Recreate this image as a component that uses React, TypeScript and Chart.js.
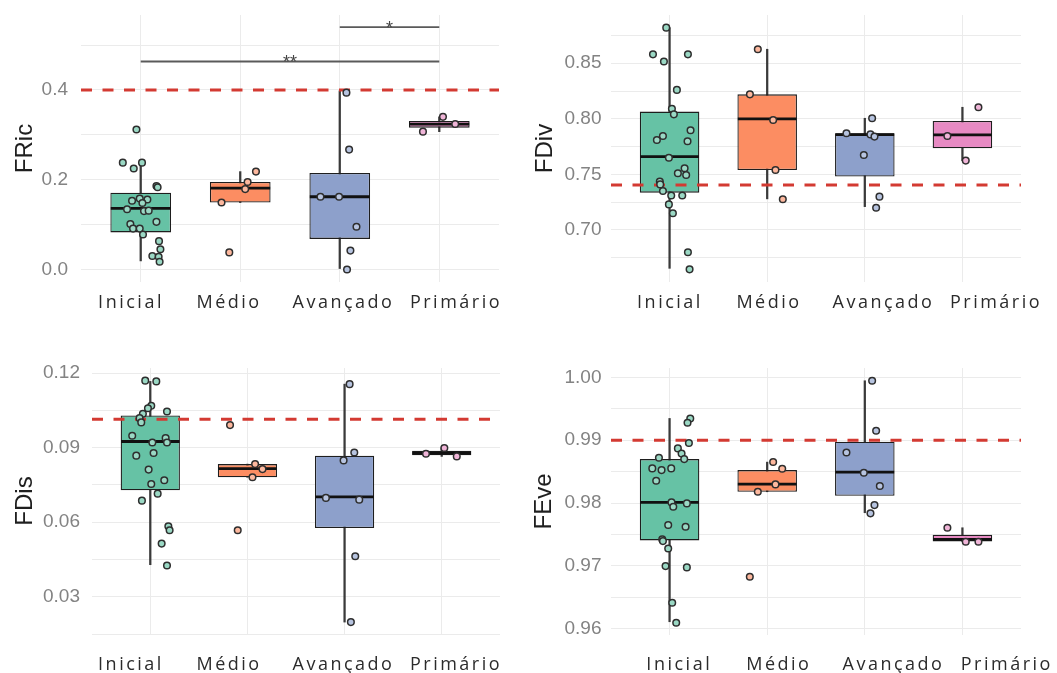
import React, { useEffect, useRef } from 'react';
import { Chart, registerables } from 'chart.js';

Chart.register(...registerables);

const CATEGORIES = ['Inicial', 'Médio', 'Avançado', 'Primário'];
const GROUP_COLORS = ['#66c2a5', '#fc8d62', '#8da0cb', '#e78ac3'];
const POINT_FILLS = ['#9ad8c4', '#fdb89e', '#b7c4e0', '#f0b5d8'];

// ---------------- FRic ----------------
const FRIC_INICIAL = [0.312, 0.238, 0.225, 0.238, 0.186, 0.183, 0.153, 0.158, 0.156, 0.148, 0.134, 0.130, 0.131, 0.106, 0.101, 0.091, 0.091, 0.078, 0.063, 0.045, 0.030, 0.028, 0.017];
const FRIC_INICIAL_JITTER = [-0.043, -0.18, -0.07, 0.013, 0.158, 0.17, -0.087, -0.01, 0.067, 0.017, -0.137, 0.033, 0.08, 0.158, -0.104, -0.077, -0.01, 0.023, 0.184, 0.198, 0.117, 0.18, 0.19];
const FRIC_MEDIO = [0.218, 0.195, 0.179, 0.149, 0.038];
const FRIC_MEDIO_JITTER = [0.158, 0.074, 0.05, -0.188, -0.11];
const FRIC_AVANCADO = [0.394, 0.267, 0.162, 0.162, 0.095, 0.042, 0.0];
const FRIC_AVANCADO_JITTER = [0.067, 0.094, -0.194, -0.007, 0.168, 0.107, 0.073];
const FRIC_PRIMARIO = [0.340, 0.324, 0.307];
const FRIC_PRIMARIO_JITTER = [0.037, 0.16, -0.164];
const FRIC_Q1 = [0.0825, 0.149, 0.068, 0.316];
const FRIC_MEDIAN = [0.136, 0.181, 0.162, 0.324];
const FRIC_Q3 = [0.171, 0.195, 0.215, 0.331];
const FRIC_WHISKER_LO = [0.019, 0.149, 0.002, 0.307];
const FRIC_WHISKER_HI = [0.238, 0.218, 0.398, 0.340];
const FRIC_THRESHOLD = 0.4;
const FRIC_Y_TICKS = [0.0, 0.2, 0.4];
const FRIC_Y_MINOR = [0.1, 0.3, 0.5];
const FRIC_SIGNIFICANCE = [
  { from: 1, to: 4, y: 0.4634, label: '**' },
  { from: 3, to: 4, y: 0.540, label: '*' },
];

// ---------------- FDiv ----------------
const FDIV_INICIAL = [0.882, 0.858, 0.8515, 0.858, 0.826, 0.809, 0.804, 0.7846, 0.781, 0.7897, 0.7798, 0.765, 0.7555, 0.751, 0.7495, 0.7435, 0.741, 0.735, 0.731, 0.731, 0.723, 0.715, 0.680, 0.6646];
const FDIV_INICIAL_JITTER = [-0.034, -0.17, -0.058, 0.188, 0.075, 0.024, 0.044, -0.068, -0.13, 0.215, 0.184, -0.007, 0.154, 0.085, 0.17, -0.10, -0.096, -0.068, 0.017, 0.13, -0.007, 0.034, 0.188, 0.205];
const FDIV_MEDIO = [0.8626, 0.822, 0.799, 0.754, 0.7276];
const FDIV_MEDIO_JITTER = [-0.096, -0.177, 0.061, 0.085, 0.16];
const FDIV_AVANCADO = [0.8005, 0.787, 0.786, 0.784, 0.7675, 0.730, 0.720];
const FDIV_AVANCADO_JITTER = [0.075, -0.188, 0.058, 0.099, -0.01, 0.15, 0.116];
const FDIV_PRIMARIO = [0.8104, 0.7846, 0.7624];
const FDIV_PRIMARIO_JITTER = [0.164, -0.154, 0.034];
const FDIV_Q1 = [0.7336, 0.754, 0.748, 0.7735];
const FDIV_MEDIAN = [0.766, 0.800, 0.7858, 0.7855];
const FDIV_Q3 = [0.8065, 0.822, 0.787, 0.798];
const FDIV_WHISKER_LO = [0.6655, 0.728, 0.721, 0.7624];
const FDIV_WHISKER_HI = [0.882, 0.8626, 0.8005, 0.8104];
const FDIV_THRESHOLD = 0.7404;
const FDIV_Y_TICKS = [0.70, 0.75, 0.80, 0.85];
const FDIV_Y_MINOR = [0.675, 0.725, 0.775, 0.825, 0.875];

// ---------------- FDis ----------------
const FDIS_INICIAL = [0.117, 0.1167, 0.1069, 0.1059, 0.1046, 0.1037, 0.1019, 0.1002, 0.0948, 0.0939, 0.0921, 0.0921, 0.0868, 0.0879, 0.0812, 0.0754, 0.0769, 0.0715, 0.0687, 0.0584, 0.0568, 0.0514, 0.0426];
const FDIS_INICIAL_JITTER = [-0.052, 0.062, 0.010, -0.024, 0.172, -0.076, -0.11, -0.093, -0.186, 0.158, 0.021, 0.172, -0.144, 0.034, -0.017, 0.010, 0.144, 0.076, -0.086, 0.186, 0.199, 0.117, 0.172];
const FDIS_MEDIO = [0.0991, 0.0834, 0.0814, 0.0781, 0.0568];
const FDIS_MEDIO_JITTER = [-0.179, 0.079, 0.155, 0.052, -0.1];
const FDIS_AVANCADO = [0.1156, 0.0881, 0.0849, 0.0698, 0.0691, 0.0463, 0.0198];
const FDIS_AVANCADO_JITTER = [0.052, 0.1, -0.01, -0.192, 0.151, 0.110, 0.065];
const FDIS_PRIMARIO = [0.0876, 0.0899, 0.0865];
const FDIS_PRIMARIO_JITTER = [-0.162, 0.027, 0.155];
const FDIS_Q1 = [0.0729, 0.0781, 0.0577, 0.0870];
const FDIS_MEDIAN = [0.0925, 0.0816, 0.0702, 0.0878];
const FDIS_Q3 = [0.103, 0.0834, 0.0868, 0.0888];
const FDIS_WHISKER_LO = [0.0429, 0.0781, 0.0198, 0.0865];
const FDIS_WHISKER_HI = [0.1167, 0.0834, 0.1156, 0.0899];
const FDIS_THRESHOLD = 0.1015;
const FDIS_Y_TICKS = [0.03, 0.06, 0.09, 0.12];
const FDIS_Y_MINOR = [0.015, 0.045, 0.075, 0.105];

// ---------------- FEve ----------------
const FEVE_INICIAL = [0.99347, 0.99279, 0.98955, 0.9887, 0.9879, 0.9870, 0.98722, 0.98552, 0.98525, 0.98552, 0.98355, 0.98011, 0.97942, 0.97995, 0.97650, 0.97623, 0.97422, 0.97395, 0.97278, 0.96997, 0.96976, 0.96414, 0.96096];
const FEVE_INICIAL_JITTER = [0.212, 0.184, 0.198, 0.085, 0.123, 0.150, -0.109, -0.177, -0.082, 0.017, -0.137, 0.020, 0.038, 0.177, -0.014, 0.164, -0.075, -0.068, -0.014, -0.041, 0.177, 0.027, 0.068];
const FEVE_MEDIO = [0.98653, 0.98546, 0.98297, 0.98180, 0.96828];
const FEVE_MEDIO_JITTER = [0.061, 0.154, 0.085, -0.096, -0.178];
const FEVE_AVANCADO = [0.99947, 0.99151, 0.98806, 0.98483, 0.98271, 0.97968, 0.97836];
const FEVE_AVANCADO_JITTER = [0.075, 0.116, -0.188, -0.01, 0.154, 0.099, 0.058];
const FEVE_PRIMARIO = [0.97607, 0.97385, 0.97385];
const FEVE_PRIMARIO_JITTER = [-0.154, 0.034, 0.164];
const FEVE_Q1 = [0.97406, 0.98180, 0.98117, 0.9739];
const FEVE_MEDIAN = [0.98011, 0.98302, 0.98493, 0.97422];
const FEVE_Q3 = [0.98700, 0.98525, 0.98976, 0.97496];
const FEVE_WHISKER_LO = [0.96111, 0.98180, 0.97846, 0.9739];
const FEVE_WHISKER_HI = [0.99347, 0.98652, 0.99947, 0.97607];
const FEVE_THRESHOLD = 0.99;
const FEVE_Y_TICKS = [0.96, 0.97, 0.98, 0.99, 1.00];
const FEVE_Y_MINOR = [0.965, 0.975, 0.985, 0.995];

// ---------------- styles ----------------
const X_MIN = 0.4;
const X_MAX = 4.6;
const BOX_WIDTH = 0.61;
const GRID_COLOR = '#ebebeb';
const RED = '#d33a32';

type Sig = { from: number; to: number; y: number; label: string };
type PanelData = {
  title: string; yMin: number; yMax: number; majors: number[]; minors: number[]; decimals: number;
  threshold: number; points: number[][]; jitter: number[][];
  q1: number[]; median: number[]; q3: number[]; wlo: number[]; whi: number[]; sig: Sig[];
};
type Layout = {
  left: number; top: number; width: number; height: number;
  plotLeft: number; plotRight: number; plotTop: number; plotBottom: number;
  titlePad: number; tickPad: number; labelShift: number[]; labelBaseline: number;
};

const PANELS: { data: PanelData; layout: Layout }[] = [
  {
    data: {
      title: 'FRic', yMin: -0.028, yMax: 0.567, majors: FRIC_Y_TICKS, minors: FRIC_Y_MINOR, decimals: 1,
      threshold: FRIC_THRESHOLD,
      points: [FRIC_INICIAL, FRIC_MEDIO, FRIC_AVANCADO, FRIC_PRIMARIO],
      jitter: [FRIC_INICIAL_JITTER, FRIC_MEDIO_JITTER, FRIC_AVANCADO_JITTER, FRIC_PRIMARIO_JITTER],
      q1: FRIC_Q1, median: FRIC_MEDIAN, q3: FRIC_Q3, wlo: FRIC_WHISKER_LO, whi: FRIC_WHISKER_HI,
      sig: FRIC_SIGNIFICANCE,
    },
    layout: {
      left: 0, top: 0, width: 530, height: 335, plotLeft: 81, plotRight: 499, plotTop: 15, plotBottom: 282,
      titlePad: 10.6, tickPad: 13, labelShift: [-9.7, -11.2, 3.7, 16.7], labelBaseline: 26,
    },
  },
  {
    data: {
      title: 'FDiv', yMin: 0.6532, yMax: 0.8934, majors: FDIV_Y_TICKS, minors: FDIV_Y_MINOR, decimals: 2,
      threshold: FDIV_THRESHOLD,
      points: [FDIV_INICIAL, FDIV_MEDIO, FDIV_AVANCADO, FDIV_PRIMARIO],
      jitter: [FDIV_INICIAL_JITTER, FDIV_MEDIO_JITTER, FDIV_AVANCADO_JITTER, FDIV_PRIMARIO_JITTER],
      q1: FDIV_Q1, median: FDIV_MEDIAN, q3: FDIV_Q3, wlo: FDIV_WHISKER_LO, whi: FDIV_WHISKER_HI,
      sig: [],
    },
    layout: {
      left: 530, top: 0, width: 527, height: 335, plotLeft: 611, plotRight: 1021, plotTop: 15, plotBottom: 282,
      titlePad: 1, tickPad: 9.5, labelShift: [0.4, 1.8, 18.7, 33.6], labelBaseline: 26,
    },
  },
  {
    data: {
      title: 'FDis', yMin: 0.015, yMax: 0.1221, majors: FDIS_Y_TICKS, minors: FDIS_Y_MINOR, decimals: 2,
      threshold: FDIS_THRESHOLD,
      points: [FDIS_INICIAL, FDIS_MEDIO, FDIS_AVANCADO, FDIS_PRIMARIO],
      jitter: [FDIS_INICIAL_JITTER, FDIS_MEDIO_JITTER, FDIS_AVANCADO_JITTER, FDIS_PRIMARIO_JITTER],
      q1: FDIS_Q1, median: FDIS_MEDIAN, q3: FDIS_Q3, wlo: FDIS_WHISKER_LO, whi: FDIS_WHISKER_HI,
      sig: [],
    },
    layout: {
      left: 0, top: 335, width: 530, height: 338, plotLeft: 92, plotRight: 500, plotTop: 368, plotBottom: 634,
      titlePad: 10.6, tickPad: 12, labelShift: [-19.3, -18.4, -1.1, 14.3], labelBaseline: 36,
    },
  },
  {
    data: {
      title: 'FEve', yMin: 0.959, yMax: 1.0015, majors: FEVE_Y_TICKS, minors: FEVE_Y_MINOR, decimals: 2,
      threshold: FEVE_THRESHOLD,
      points: [FEVE_INICIAL, FEVE_MEDIO, FEVE_AVANCADO, FEVE_PRIMARIO],
      jitter: [FEVE_INICIAL_JITTER, FEVE_MEDIO_JITTER, FEVE_AVANCADO_JITTER, FEVE_PRIMARIO_JITTER],
      q1: FEVE_Q1, median: FEVE_MEDIAN, q3: FEVE_Q3, wlo: FEVE_WHISKER_LO, whi: FEVE_WHISKER_HI,
      sig: [],
    },
    layout: {
      left: 530, top: 335, width: 527, height: 338, plotLeft: 611, plotRight: 1021, plotTop: 368, plotBottom: 635,
      titlePad: 0, tickPad: 9.5, labelShift: [9.7, 11.6, 28.7, 44.4], labelBaseline: 35,
    },
  },
];

function buildConfig(d: PanelData, L: Layout): any {
  const isMajor = (v: number) => d.majors.some((m) => Math.abs(m - v) < 1e-9);
  const halfBox = (c: any) => {
    const xs = c.chart && c.chart.scales ? c.chart.scales.x : null;
    if (!xs) return 0;
    const w = xs.getPixelForValue(1 + BOX_WIDTH / 2) - xs.getPixelForValue(1);
    return Number.isFinite(w) && w > 0 ? w - 0.4 : 0;
  };
  const idx = CATEGORIES.map((_, i) => i + 1);

  const datasets: any[] = [];
  // whiskers
  datasets.push({
    type: 'bar', order: 5, grouped: false,
    data: idx.map((x, i) => ({ x, y: [d.wlo[i], d.whi[i]] })),
    backgroundColor: '#3a3a3a', borderWidth: 0, barThickness: 1.6,
  });
  // boxes
  datasets.push({
    type: 'bar', order: 4, grouped: false,
    data: idx.map((x, i) => ({ x, y: [d.q1[i], d.q3[i]] })),
    backgroundColor: GROUP_COLORS, borderColor: '#1e1e1e', borderWidth: 1.3, borderSkipped: false,
    barPercentage: BOX_WIDTH, categoryPercentage: 1,
  });
  // medians
  datasets.push({
    type: 'scatter', order: 3,
    data: idx.map((x, i) => ({ x, y: d.median[i] })),
    pointStyle: 'line', pointRadius: halfBox, pointBorderWidth: 2.8, pointBorderColor: '#111111',
    showLine: false,
  });
  // threshold dashed line
  datasets.push({
    type: 'line', order: 2,
    data: [{ x: X_MIN, y: d.threshold }, { x: X_MAX, y: d.threshold }],
    borderColor: RED, borderWidth: 3, borderDash: [11, 10.5], pointRadius: 0, fill: false,
  });
  // jittered points
  d.points.forEach((vals, g) => {
    datasets.push({
      type: 'scatter', order: 1,
      data: vals.map((v, j) => ({ x: g + 1 + d.jitter[g][j], y: v })),
      pointRadius: 3.3, pointBackgroundColor: POINT_FILLS[g], pointBorderColor: '#2e2e2e', pointBorderWidth: 1.5,
    });
  });
  // significance lines
  d.sig.forEach((s) => {
    datasets.push({
      type: 'line', order: 0,
      data: [{ x: s.from, y: s.y }, { x: s.to, y: s.y }],
      borderColor: '#5a5a5a', borderWidth: 1.8, pointRadius: 0, fill: false,
    });
  });

  const textPlugin = {
    id: 'panelText',
    afterDraw(chart: any) {
      const { ctx, chartArea } = chart;
      const xs = chart.scales.x;
      const ys = chart.scales.y;
      ctx.save();
      ctx.font = '18px "Open Sans"';
      ctx.fillStyle = '#2b2b2b';
      ctx.textAlign = 'center';
      ctx.textBaseline = 'alphabetic';
      (ctx as any).letterSpacing = '2.5px';
      CATEGORIES.forEach((c, i) => {
        ctx.fillText(c, xs.getPixelForValue(i + 1) + L.labelShift[i], chartArea.bottom + L.labelBaseline);
      });
      (ctx as any).letterSpacing = '0px';
      ctx.font = '18px "Liberation Sans"';
      ctx.fillStyle = '#444444';
      d.sig.forEach((s) => {
        ctx.fillText(s.label, xs.getPixelForValue((s.from + s.to) / 2), ys.getPixelForValue(s.y) + 6.5);
      });
      ctx.restore();
    },
  };

  const yTickValues = [...d.majors, ...d.minors].sort((a, b) => a - b);

  return {
    type: 'bar',
    data: { datasets },
    options: {
      responsive: false,
      animation: false,
      events: [],
      layout: {
        autoPadding: false,
        padding: { left: 0, top: L.plotTop - L.top, right: L.left + L.width - L.plotRight, bottom: 0 },
      },
      plugins: { legend: { display: false }, tooltip: { enabled: false } },
      scales: {
        x: {
          type: 'linear', min: X_MIN, max: X_MAX, offset: false,
          border: { display: false },
          grid: { color: GRID_COLOR, lineWidth: 1, drawTicks: false, offset: false },
          ticks: { display: false },
          afterBuildTicks: (s: any) => { s.ticks = idx.map((v) => ({ value: v })); },
          afterFit: (s: any) => {
            s.height = L.top + L.height - L.plotBottom;
            s.paddingLeft = 0; s.paddingRight = 0;
          },
        },
        y: {
          type: 'linear', min: d.yMin, max: d.yMax,
          border: { display: false },
          grid: { color: GRID_COLOR, lineWidth: 1, drawTicks: false },
          ticks: {
            autoSkip: false, padding: L.tickPad, color: '#838383',
            font: { family: 'Liberation Sans', size: 19 },
            callback: (v: any) => (isMajor(Number(v)) ? Number(v).toFixed(d.decimals) : ''),
          },
          afterBuildTicks: (s: any) => { s.ticks = yTickValues.map((v) => ({ value: v })); },
          afterFit: (s: any) => {
            s.width = L.plotLeft - L.left;
            s.paddingTop = 0; s.paddingBottom = 0;
          },
          title: {
            display: true, text: d.title, color: '#1f1f1f',
            font: { family: 'Liberation Sans', size: 24, lineHeight: 1.2 },
            padding: { top: L.titlePad, bottom: 0 },
          },
        },
      },
    },
    plugins: [textPlugin],
  };
}

function PanelChart({ data, layout }: { data: PanelData; layout: Layout }) {
  const ref = useRef<HTMLCanvasElement | null>(null);
  useEffect(() => {
    if (!ref.current) return;
    const chart = new Chart(ref.current, buildConfig(data, layout));
    return () => chart.destroy();
  }, [data, layout]);
  return (
    <canvas
      ref={ref}
      width={layout.width}
      height={layout.height}
      style={{ position: 'absolute', left: layout.left, top: layout.top, width: layout.width, height: layout.height }}
    />
  );
}

export default function App() {
  return (
    <div style={{ position: 'absolute', left: 0, top: 0, width: 1057, height: 673, background: '#ffffff', overflow: 'hidden' }}>
      {PANELS.map((p) => (
        <PanelChart key={p.data.title} data={p.data} layout={p.layout} />
      ))}
    </div>
  );
}
